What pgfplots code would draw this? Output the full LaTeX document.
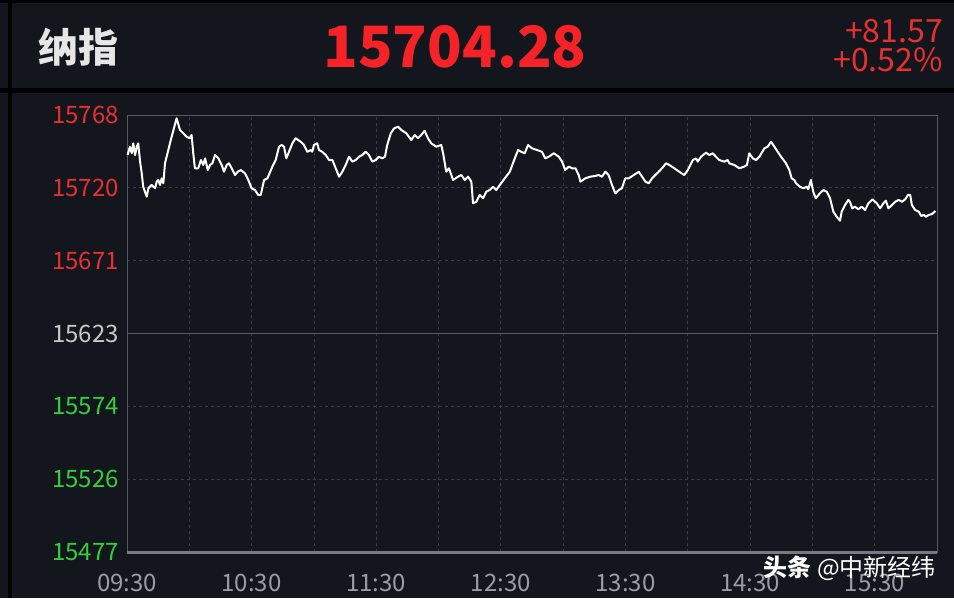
\documentclass[border=0pt]{standalone}
\usepackage{fontspec}
\setmainfont{Noto Sans CJK SC}
\usepackage{pgfplots}
\pgfplotsset{compat=1.18}
\definecolor{bg}{HTML}{13161C}
\definecolor{gridc}{HTML}{383D45}
\definecolor{border}{HTML}{555A61}
\definecolor{upred}{HTML}{E83030}
\definecolor{hdred}{HTML}{F52228}
\definecolor{dngreen}{HTML}{33D03C}
\definecolor{midgray}{HTML}{C8C8C8}
\definecolor{xlab}{HTML}{9A9EA4}
\definecolor{hdwhite}{HTML}{E6E6E6}
\pgfplotstableread{
m v
0.3 15741.6
1.4 15747.2
2.3 15742.8
3.0 15749.4
3.9 15741.6
4.7 15747.2
5.4 15749.4
6.3 15737.2
7.1 15729.4
7.8 15720.5
9.5 15713.9
10.3 15719.5
11.9 15721.7
13.5 15719.5
14.3 15723.9
15.1 15725.0
15.9 15721.7
16.7 15726.1
17.5 15722.8
18.3 15736.1
19.9 15745.0
21.5 15753.8
23.9 15766.1
25.5 15758.3
27.1 15756.1
28.7 15753.8
30.3 15752.8
31.1 15755.0
31.9 15742.8
32.7 15732.8
34.3 15732.8
35.6 15738.3
36.7 15735.0
37.6 15739.4
38.9 15731.6
40.0 15735.0
41.1 15736.1
42.4 15741.6
44.0 15739.4
45.6 15735.0
46.7 15730.5
48.0 15735.0
49.1 15736.1
50.4 15732.8
52.0 15728.3
53.3 15730.5
54.9 15731.6
56.8 15729.4
58.4 15725.0
60.0 15719.5
61.6 15718.3
63.2 15715.0
64.4 15715.0
66.0 15725.0
67.6 15726.1
70.0 15733.9
71.6 15738.3
73.2 15747.2
74.5 15748.3
75.6 15747.2
76.7 15739.4
78.0 15743.8
79.6 15749.4
81.2 15752.8
83.6 15750.5
85.2 15748.3
86.8 15743.8
88.5 15745.0
89.2 15743.8
90.0 15748.3
91.6 15749.4
92.4 15745.0
94.0 15743.8
95.7 15741.6
97.3 15738.3
98.9 15738.3
100.5 15732.8
102.1 15727.2
103.7 15730.5
105.3 15735.0
106.9 15740.5
108.5 15737.2
110.1 15738.3
111.7 15740.5
113.3 15741.6
114.9 15743.8
116.5 15741.6
118.1 15737.2
119.7 15738.3
121.3 15740.5
122.9 15739.4
124.2 15740.5
125.3 15748.3
127.0 15756.1
128.6 15759.4
130.5 15760.5
132.1 15758.3
134.5 15756.1
136.9 15751.6
138.5 15755.0
140.1 15752.8
141.7 15755.0
143.3 15757.8
144.9 15752.8
146.5 15749.4
148.9 15747.2
151.3 15748.3
152.2 15742.8
153.7 15730.5
155.0 15732.8
157.0 15725.0
159.4 15727.2
161.0 15728.3
162.6 15725.0
164.2 15727.2
165.8 15723.9
166.6 15709.5
168.2 15710.5
169.8 15715.0
171.4 15712.8
173.0 15717.2
174.6 15718.3
176.2 15720.5
177.8 15718.3
179.5 15721.7
181.9 15726.1
184.3 15730.5
186.7 15739.4
188.3 15745.0
189.8 15743.8
191.5 15742.8
193.1 15748.3
195.0 15746.1
197.4 15745.0
199.8 15743.8
201.4 15739.4
203.1 15740.5
205.5 15742.8
207.9 15740.5
209.5 15737.2
211.0 15731.6
212.7 15733.9
214.3 15732.8
215.9 15732.8
217.5 15728.3
218.3 15723.9
220.7 15726.1
223.1 15727.2
225.5 15727.7
227.1 15728.3
228.7 15727.2
230.3 15730.5
231.9 15728.3
233.5 15721.7
235.1 15716.1
236.8 15718.3
238.3 15719.5
239.9 15726.1
241.6 15726.1
244.0 15728.3
246.4 15730.5
248.0 15727.2
249.6 15723.9
251.2 15722.8
252.8 15726.1
254.4 15728.3
256.0 15730.5
257.6 15732.8
259.5 15736.1
261.1 15735.0
263.5 15732.8
265.9 15730.5
268.3 15728.3
270.0 15731.6
272.4 15738.3
274.0 15739.4
274.8 15737.2
276.4 15740.5
278.8 15743.2
280.4 15741.6
282.0 15742.8
283.6 15740.5
285.2 15738.3
287.6 15737.2
289.2 15738.3
290.0 15736.1
292.4 15735.0
294.8 15732.8
297.2 15733.9
298.5 15735.0
299.6 15742.8
301.3 15739.4
302.9 15738.3
304.5 15740.5
306.9 15746.1
308.5 15747.2
310.1 15750.5
311.7 15747.2
313.3 15743.8
314.9 15740.5
317.3 15736.1
318.9 15731.6
320.0 15726.1
321.3 15725.0
322.1 15722.8
324.0 15720.5
325.6 15719.5
327.3 15720.5
328.0 15718.8
329.3 15725.0
330.4 15717.2
331.6 15712.8
333.6 15716.1
335.3 15718.3
336.9 15717.2
338.5 15712.8
340.1 15703.9
341.7 15700.5
343.3 15697.9
344.1 15703.9
345.7 15708.3
347.3 15711.7
348.1 15710.5
349.2 15706.1
350.5 15707.2
352.1 15705.5
353.8 15707.2
355.4 15705.0
357.0 15709.5
358.9 15712.1
361.0 15709.5
362.6 15706.1
364.2 15709.5
365.4 15711.2
366.6 15706.1
368.3 15708.3
369.9 15710.5
371.5 15711.7
373.1 15710.5
374.7 15712.1
376.0 15715.0
377.1 15715.0
377.9 15708.3
379.5 15705.0
381.2 15703.9
382.4 15701.0
383.6 15701.7
384.7 15700.5
386.0 15701.7
387.6 15702.3
389.2 15704.3
}\nasdaq
\begin{document}
\begin{tikzpicture}[x=1pt,y=1pt]
\fill[bg] (0,0) rectangle (954,598);
\fill[black] (0,595) rectangle (954,598);
\fill[black] (0,505) rectangle (954,510);
\fill[black] (8,0) rectangle (12,598);
\node[inner sep=0, text=hdwhite, font=\bfseries\fontsize{40}{40}\selectfont] at (78,551) {纳指};
\node[inner sep=0, text=hdred, font=\bfseries\fontsize{57}{57}\selectfont] at (455,551) {15704.28};
\node[anchor=east, inner sep=0, text=upred, font=\fontsize{32}{32}\selectfont] at (943,567) {+81.57};
\node[anchor=east, inner sep=0, text=upred, font=\fontsize{32}{32}\selectfont] at (943,538) {+0.52\%};
\begin{axis}[
  at={(127pt,46pt)}, anchor=south west,
  scale only axis, width=810pt, height=437pt,
  xmin=0, xmax=390, ymin=15477.12, ymax=15768.30,
  scaled y ticks=false, scaled x ticks=false,
  axis line style={draw=border, line width=0.8pt},
  tick style={draw=none},
  xtick={0,60,120,180,240,300,360},
  xticklabels={09:30,10:30,11:30,12:30,13:30,14:30,15:30},
  minor xtick={30,90,150,210,270,330},
  ytick={15477.12,15525.65,15574.18,15671.24,15719.77,15768.30},
  yticklabels={\textcolor{dngreen}{15477},\textcolor{dngreen}{15526},\textcolor{dngreen}{15574},\textcolor{upred}{15671},\textcolor{upred}{15720},\textcolor{upred}{15768}},
  extra y ticks={15622.71},
  extra y tick labels={\textcolor{midgray}{15623}},
  extra y tick style={grid=major, major grid style={solid, draw=border, line width=0.9pt}},
  xmajorgrids, xminorgrids, ymajorgrids,
  major grid style={draw=gridc, line width=0.7pt, dash pattern=on 3pt off 3pt},
  minor grid style={draw=gridc, line width=0.7pt, dash pattern=on 3pt off 3pt},
  xticklabel style={inner sep=0pt, yshift=-22pt, text=xlab, font=\fontsize{24}{24}\selectfont},
  yticklabel style={inner sep=0pt, xshift=-8pt, font=\fontsize{24}{24}\selectfont},
  clip=false,
]
\addplot[white, line width=2pt, line join=round, no markers] table[x=m, y=v] {\nasdaq};
\draw[draw=border!80!white, line width=3pt] (axis cs:0,15477.12) -- (axis cs:390,15477.12);
\end{axis}
\node[anchor=east, inner sep=0, text=white, font=\fontsize{24}{24}\selectfont] at (936,30) {\textbf{头条} @中新经纬};
\end{tikzpicture}
\end{document}
